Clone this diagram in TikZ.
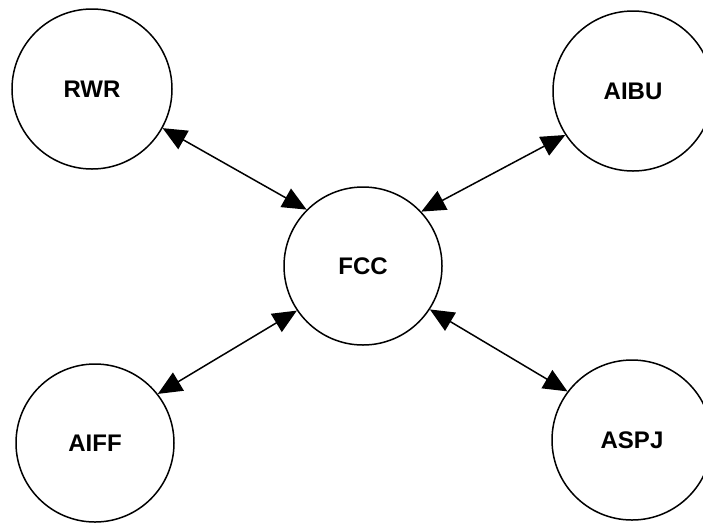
\documentclass[tikz,border=0pt]{standalone}
\usepackage{fontspec}
\setmainfont{Liberation Sans}
\usetikzlibrary{arrows.meta}
\begin{document}
\begin{tikzpicture}[x=1pt,y=-1pt,
  unit/.style={circle,draw,line width=1.5pt,inner sep=0pt,minimum size=160pt,font=\fontsize{24}{28}\selectfont\bfseries},
  link/.style={line width=1.5pt,{Triangle[length=24pt,width=21pt]}-{Triangle[length=24pt,width=21pt]}}]
\useasboundingbox (0,0) rectangle (703,523);
\node[unit] (rwr) at (92,89) {RWR};
\node[unit] (aibu) at (633,91) {AIBU};
\node[unit,minimum size=158pt] (fcc) at (363,266) {FCC};
\node[unit,minimum size=158pt] (aiff) at (95,443) {AIFF};
\node[unit] (aspj) at (632,440) {ASPJ};
\draw[link] (rwr.-29) -- (fcc.135);
\draw[link] (aibu.213) -- (fcc.43);
\draw[link] (aiff.38) -- (fcc.214);
\draw[link] (aspj.143) -- (fcc.-33);
\end{tikzpicture}
\end{document}
